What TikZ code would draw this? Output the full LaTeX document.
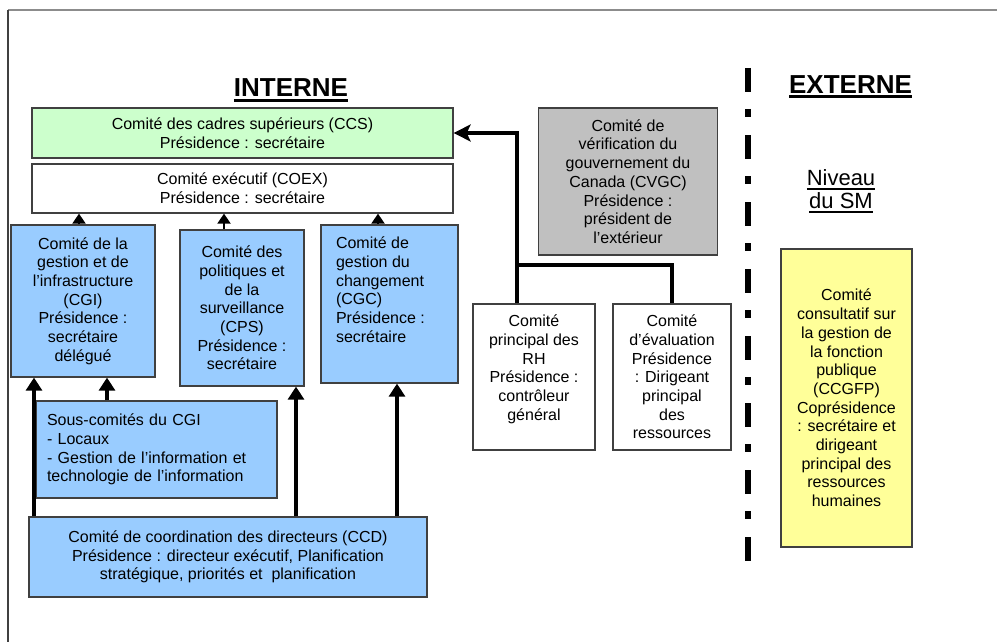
\documentclass[tikz,border=0pt]{standalone}
\usepackage{fontspec}
\setmainfont{Liberation Sans}
\usepackage{tikz}
\usetikzlibrary{arrows.meta}

\definecolor{vertCS}{HTML}{CCFFCC}
\definecolor{bleuCS}{HTML}{99CCFF}
\definecolor{grisCS}{HTML}{C0C0C0}
\definecolor{jauneCS}{HTML}{FFFF99}

\newcommand\corps{\fontsize{16}{18.7}\selectfont}
\newcommand\titre{\fontsize{26}{30}\selectfont\bfseries}
\newcommand\souligne[2][2.5pt]{\leavevmode\setbox0=\hbox{#2}\rlap{\rule[-4.5pt]{\wd0}{#1}}\box0}

\tikzset{
  boite/.style={draw=black!75, line width=1.3pt, inner sep=0pt, font=\corps, align=center},
  fleche/.style={-{Triangle[length=13pt,width=16pt]}, line width=4pt},
  petitefleche/.style={-{Triangle[length=10pt,width=13pt]}, line width=2pt},
  cadre/.style={line width=1.5pt},
}

\begin{document}
\begin{tikzpicture}[x=1pt,y=-1pt]
        \useasboundingbox (0,0) rectangle (997,642);
        \draw[cadre, black!45] (8,10) -- (997,10);
        \draw[cadre, black!75] (8,10) -- (8,642);

        % titres
        \node[font=\titre, anchor=base] (interne) at (291,97) {\souligne{INTERNE}};
        \node[font=\titre, anchor=base] (externe) at (850.5,93) {\souligne{EXTERNE}};
        \node[font=\fontsize{22}{23}\selectfont, align=center, anchor=north] (niveau) at (841,166)
            {\souligne[2pt]{Niveau}\\\souligne[2pt]{du SM}};

        % comites internes
        \node[boite, fill=vertCS, minimum width=421pt, minimum height=50pt] (ccs) at (242.5,133)
            {Comité des cadres supérieurs (CCS)\\Présidence : secrétaire};
        \node[boite, fill=white, minimum width=421pt, minimum height=49pt] (coex) at (242.5,188.5)
            {Comité exécutif (COEX)\\Présidence : secrétaire};
        \node[boite, fill=bleuCS, minimum width=144pt, minimum height=152pt] (cgi) at (83,301)
            {Comité de la\\gestion et de\\l’infrastructure\\(CGI)\\Présidence :\\secrétaire\\délégué};
        \node[boite, fill=bleuCS, minimum width=124pt, minimum height=156pt] (cps) at (242,308)
            {Comité des\\politiques et\\de la\\surveillance\\(CPS)\\Présidence :\\secrétaire};
        \node[boite, fill=bleuCS, minimum width=137pt, minimum height=158pt] (cgc) at (389.5,304)
            {\parbox[c][134pt][t]{107pt}{\raggedright Comité de\\gestion du\\changement\\(CGC)\\Présidence :\\secrétaire}};
        \node[boite, fill=bleuCS, align=left, text width=219pt, minimum width=241pt, minimum height=97pt] (souscgi) at (156.5,449.5)
            {Sous-comités du CGI\\- Locaux\\- Gestion de l’information et\\technologie de l’information};
        \node[boite, fill=bleuCS, minimum width=398pt, minimum height=80pt] (ccd) at (228,557)
            {Comité de coordination des directeurs (CCD)\\Présidence : directeur exécutif, Planification\\stratégique, priorités et \ planification};

        \node[boite, fill=grisCS, minimum width=179pt, minimum height=147pt] (cvgc) at (628,181.5)
            {Comité de\\vérification du\\gouvernement du\\Canada (CVGC)\\Présidence :\\président de\\l’extérieur};
        \node[boite, fill=white, minimum width=122pt, minimum height=146pt] (rh) at (534,377)
            {\parbox[c][124pt][t]{110pt}{\centering Comité\\principal des\\RH\\Présidence :\\contrôleur\\général}};
        \node[boite, fill=white, minimum width=118pt, minimum height=146pt] (eval) at (672,377)
            {Comité\\d’évaluation\\Présidence\\: Dirigeant\\principal\\des\\ressources};

        % comite externe
        \node[boite, fill=jauneCS, minimum width=131pt, minimum height=298pt] (ccgfp) at (846.5,398)
            {Comité\\consultatif sur\\la gestion de\\la fonction\\publique\\(CCGFP)\\Coprésidence\\: secrétaire et\\dirigeant\\principal des\\ressources\\humaines};

        % separation interne / externe
        \draw[line width=6pt, dash pattern=on 24pt off 17pt on 8pt off 18pt] (748,68) -- (748,562);

        \coordinate (pa) at (79,0);
        \coordinate (pb) at (224,0);
        \coordinate (pc) at (378,0);
        \coordinate (fa) at (34,0);
        \coordinate (fb) at (107,0);
        \coordinate (fc) at (296,0);
        \coordinate (fd) at (397,0);
        \coordinate (jonction) at (517,265);

        \draw[petitefleche] (cgi.north -| pa) -- (coex.south -| pa);
        \draw[petitefleche] (cps.north -| pb) -- (coex.south -| pb);
        \draw[petitefleche] (cgc.north -| pc) -- (coex.south -| pc);

        \draw[fleche] (ccd.north -| fa) -- (cgi.south -| fa);
        \draw[fleche] (souscgi.north -| fb) -- (cgi.south -| fb);
        \draw[fleche] (ccd.north -| fc) -- (cps.south -| fc);
        \draw[fleche] (ccd.north -| fd) -- (cgc.south -| fd);

        \draw[line width=4pt, -{Stealth[length=17pt,width=17pt,inset=4pt]}] (rh.north -| jonction) |- (ccs.east);
        \draw[line width=4pt] (eval.north) |- (jonction);

    \end{tikzpicture}
\end{document}
